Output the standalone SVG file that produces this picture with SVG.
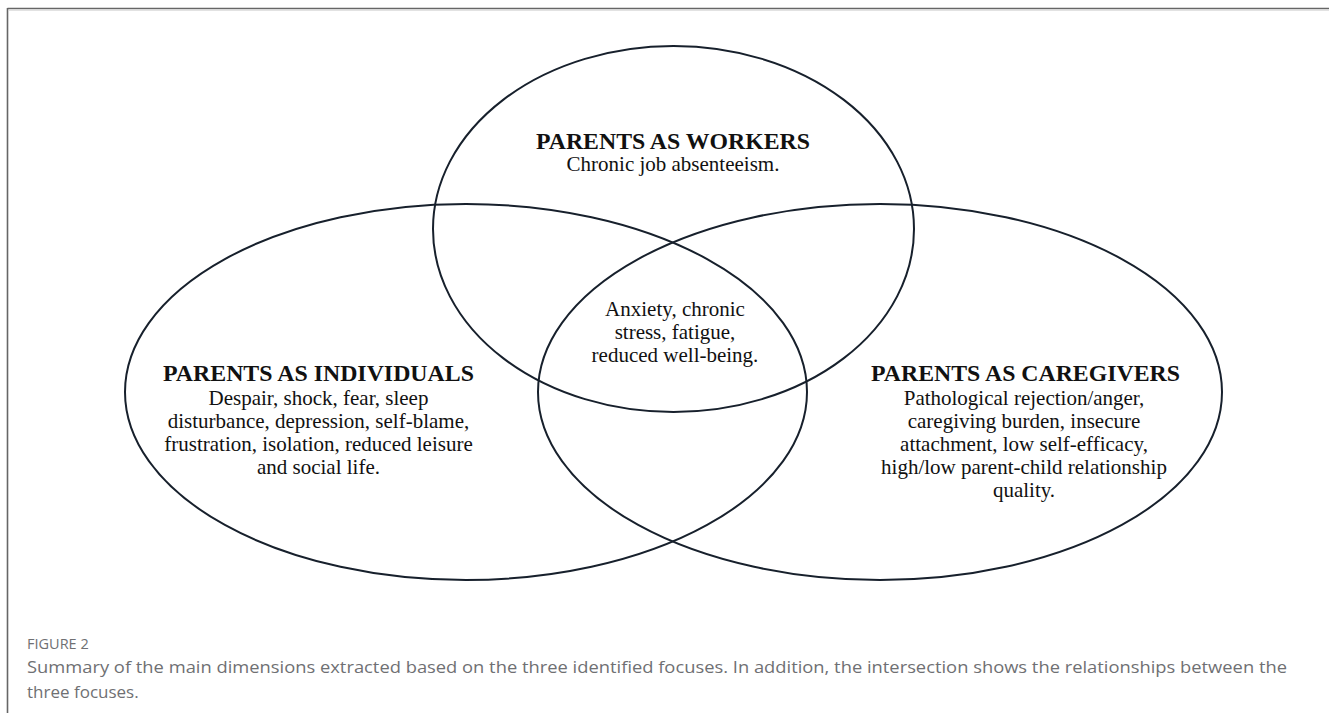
<svg xmlns="http://www.w3.org/2000/svg" width="1329" height="713" viewBox="0 0 1329 713">
<style>
.ring{fill:none;stroke:#17202c;stroke-width:2}
.t{font-family:"Liberation Serif","Times New Roman",serif;font-weight:bold;font-size:23.5px;fill:#111;text-anchor:middle}
.b{font-family:"Liberation Serif","Times New Roman",serif;font-size:21px;fill:#111;text-anchor:middle}
.cap{font-family:"Open Sans","Noto Sans",sans-serif;fill:#6f7073}
</style>
<rect width="1329" height="713" fill="#fff"/>
<g id="frame">
<line x1="7.5" y1="8.5" x2="1329" y2="8.5" stroke="#666" stroke-width="1.6"/>
<line x1="9" y1="10.5" x2="1329" y2="10.5" stroke="#e2e2e2" stroke-width="1"/>
<line x1="7.5" y1="8" x2="7.5" y2="713" stroke="#666" stroke-width="1.6"/>
</g>
<g id="connectors"></g>
<g id="workers">
<ellipse class="ring" cx="673.5" cy="229" rx="240.5" ry="183"/>
<text class="t" x="673" y="149" textLength="274" lengthAdjust="spacingAndGlyphs">PARENTS AS WORKERS</text>
<text class="b" x="673" y="171">Chronic job absenteeism.</text>
</g>
<g id="individuals">
<ellipse class="ring" cx="466" cy="392" rx="341" ry="188"/>
<text class="t" x="318.5" y="381" textLength="311" lengthAdjust="spacingAndGlyphs">PARENTS AS INDIVIDUALS</text>
<text class="b" x="318.5" y="405">Despair, shock, fear, sleep</text>
<text class="b" x="318.5" y="428">disturbance, depression, self-blame,</text>
<text class="b" x="318.5" y="451">frustration, isolation, reduced leisure</text>
<text class="b" x="318.5" y="474">and social life.</text>
</g>
<g id="caregivers">
<ellipse class="ring" cx="880" cy="392" rx="342" ry="188"/>
<text class="t" x="1025.5" y="381" textLength="309" lengthAdjust="spacingAndGlyphs">PARENTS AS CAREGIVERS</text>
<text class="b" x="1024" y="405">Pathological rejection/anger,</text>
<text class="b" x="1024" y="428">caregiving burden, insecure</text>
<text class="b" x="1024" y="451">attachment, low self-efficacy,</text>
<text class="b" x="1024" y="474">high/low parent-child relationship</text>
<text class="b" x="1024" y="497">quality.</text>
</g>
<g id="intersection">
<text class="b" x="675" y="316">Anxiety, chronic</text>
<text class="b" x="675" y="339">stress, fatigue,</text>
<text class="b" x="675" y="362">reduced well-being.</text>
</g>
<g id="caption">
<text class="cap" x="27" y="649" font-size="14.5" fill="#5f6063">FIGURE 2</text>
<text class="cap" x="27" y="673" font-size="17" textLength="1260" lengthAdjust="spacingAndGlyphs">Summary of the main dimensions extracted based on the three identified focuses. In addition, the intersection shows the relationships between the</text>
<text class="cap" x="27" y="698" font-size="17">three focuses.</text>
</g>
</svg>
